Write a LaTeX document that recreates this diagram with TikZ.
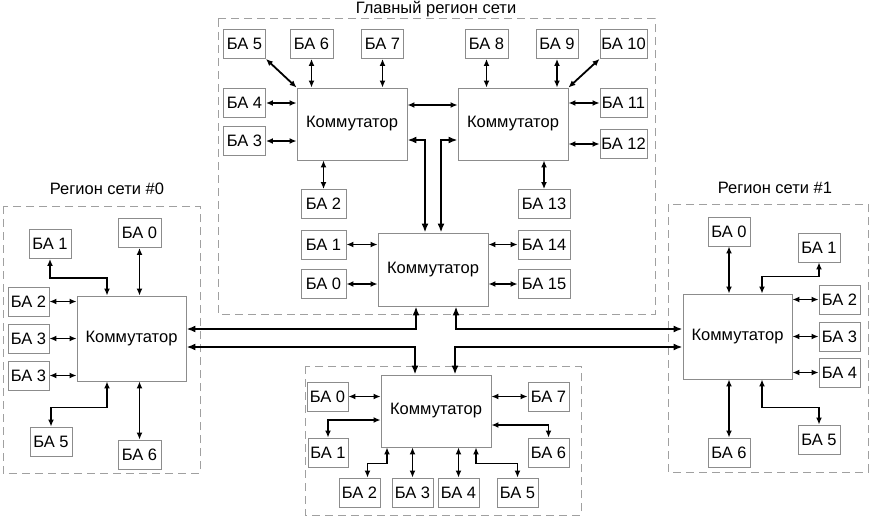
\documentclass[tikz,border=0pt]{standalone}
\usepackage{fontspec}
\setmainfont{Liberation Sans}
\usetikzlibrary{arrows.meta}
\definecolor{boxgray}{HTML}{8C8C8C}
\definecolor{dashgray}{HTML}{A0A0A0}
\tikzset{
  ba/.style={draw=boxgray, line width=0.9pt, rectangle, minimum width=42pt, minimum height=29pt, inner sep=0pt, font=\fontsize{16.5}{19}\selectfont},
  sw/.style={draw=boxgray, line width=0.9pt, rectangle, minimum width=110pt, minimum height=72pt, inner sep=0pt, font=\fontsize{16.5}{19}\selectfont},
  lnk/.style={line width=1.8pt, {Latex[length=7pt,width=6pt]}-{Latex[length=7pt,width=6pt]}},
  big/.style={line width=2.4pt, {Latex[length=9pt,width=7pt]}-{Latex[length=9pt,width=7pt]}},
  region/.style={draw=dashgray, line width=1pt, dash pattern=on 8pt off 5pt},
  ttl/.style={font=\fontsize{16.5}{19}\selectfont, inner sep=0pt}
}
\begin{document}
\begin{tikzpicture}[x=1pt,y=-1pt]
\useasboundingbox[fill=white] (0,0) rectangle (869,519);
% regions
\draw[region] (218,19) rectangle (655,314);
\draw[region] (3,206) rectangle (200,473);
\draw[region] (668,204) rectangle (868,472);
\draw[region] (305,366) rectangle (581,515);
\node[ttl] (tmain) at (436,9) {Главный регион сети};
\node[ttl] (tleft) at (107,189) {Регион сети \#0};
\node[ttl] (tright) at (775,188) {Регион сети \#1};

% main region
\node[sw] (mS1) at (352,124) {Коммутатор};
\node[sw] (mS2) at (513,124) {Коммутатор};
\node[sw, minimum height=73pt] (mS3) at (433,269.5) {Коммутатор};
\node[ba] (m5) at (244.5,44) {БА 5};
\node[ba, minimum width=43pt] (m6) at (311.5,44) {БА 6};
\node[ba] (m7) at (382.5,44) {БА 7};
\node[ba, minimum width=43pt] (m8) at (486.5,44) {БА 8};
\node[ba] (m9) at (557,44) {БА 9};
\node[ba, minimum width=47pt] (m10) at (623.5,44) {БА 10};
\node[ba] (m4) at (244.5,103) {БА 4};
\node[ba] (m3) at (244.5,141) {БА 3};
\node[ba, minimum width=47pt] (m11) at (623.5,103) {БА 11};
\node[ba, minimum width=47pt] (m12) at (623.5,144) {БА 12};
\node[ba, minimum width=45pt] (m2) at (323.5,204) {БА 2};
\node[ba, minimum width=45pt] (m1) at (323.5,244.5) {БА 1};
\node[ba, minimum width=45pt] (m0) at (323.5,284) {БА 0};
\node[ba, minimum width=52pt] (m13) at (544,204) {БА 13};
\node[ba, minimum width=52pt] (m14) at (544,244.5) {БА 14};
\node[ba, minimum width=52pt] (m15) at (544,284) {БА 15};

\draw[lnk] (m5.south east) -- (mS1.north west);
\draw[lnk] (m6.south) -- (m6.south |- mS1.north);
\draw[lnk] (m7.south) -- (m7.south |- mS1.north);
\draw[lnk] (m8.south) -- (m8.south |- mS2.north);
\draw[lnk] (m9.south) -- (m9.south |- mS2.north);
\draw[lnk] (m10.south west) -- (mS2.north east);
\draw[lnk] (m4.east) -- (mS1.west |- m4.east);
\draw[lnk] (m3.east) -- (mS1.west |- m3.east);
\draw[lnk] ([yshift=19pt]mS1.east) -- ([yshift=19pt]mS2.west);
\draw[lnk] (m11.west) -- (mS2.east |- m11.west);
\draw[lnk] (m12.west) -- (mS2.east |- m12.west);
\draw[lnk] (m2.north) -- (m2.north |- mS1.south);
\draw[lnk] (m13.north) -- (m13.north |- mS2.south);
\draw[lnk] (m1.east) -- (mS3.west |- m1.east);
\draw[lnk] (m0.east) -- (mS3.west |- m0.east);
\draw[lnk] (m14.west) -- (mS3.east |- m14.west);
\draw[lnk] (m15.west) -- (mS3.east |- m15.west);
\draw[big] ([yshift=-16pt]mS1.east) -| ([xshift=-8pt]mS3.north);
\draw[big] ([yshift=-16pt]mS2.west) -| ([xshift=8pt]mS3.north);

% left region
\node[sw, minimum width=109pt, minimum height=85pt] (lS) at (131.5,338.5) {Коммутатор};
\node[ba, minimum width=43pt] (l0) at (139.5,233) {БА 0};
\node[ba] (l1) at (50,244) {БА 1};
\node[ba, minimum width=41pt] (l2) at (28.5,301.5) {БА 2};
\node[ba, minimum width=41pt] (l3) at (28.5,338.5) {БА 3};
\node[ba, minimum width=41pt] (l3b) at (28.5,375.5) {БА 3};
\node[ba] (l5) at (51,441.5) {БА 5};
\node[ba, minimum width=43pt] (l6) at (139.5,454.5) {БА 6};
\draw[lnk] (l0.south) -- (l0.south |- lS.north);
\draw[lnk] (l1.south) -- ++(0,19) -| ([xshift=-24.5pt]lS.north);
\draw[lnk] (l2.east) -- (lS.west |- l2.east);
\draw[lnk] (l3.east) -- (lS.west |- l3.east);
\draw[lnk] (l3b.east) -- (lS.west |- l3b.east);
\draw[lnk] ([xshift=-24.5pt]lS.south) -- ++(0,26) -| (l5.north);
\draw[lnk] (l6.north) -- (l6.north |- lS.south);

% right region
\node[sw, minimum width=109pt, minimum height=85pt] (rS) at (737.5,336.5) {Коммутатор};
\node[ba] (r0) at (729,231.5) {БА 0};
\node[ba] (r1) at (819,247.5) {БА 1};
\node[ba, minimum width=41pt] (r2) at (839.5,299.5) {БА 2};
\node[ba, minimum width=41pt] (r3) at (839.5,336.5) {БА 3};
\node[ba, minimum width=41pt] (r4) at (839.5,372.5) {БА 4};
\node[ba] (r5) at (819,439.5) {БА 5};
\node[ba] (r6) at (729,452.5) {БА 6};
\draw[lnk] (r0.south) -- (r0.south |- rS.north);
\draw[lnk] (r1.south) -- ++(0,14) -| ([xshift=24.5pt]rS.north);
\draw[lnk] (r2.west) -- (rS.east |- r2.west);
\draw[lnk] (r3.west) -- (rS.east |- r3.west);
\draw[lnk] (r4.west) -- (rS.east |- r4.west);
\draw[lnk] ([xshift=24.5pt]rS.south) -- ++(0,28) -| (r5.north);
\draw[lnk] (r6.north) -- (r6.north |- rS.south);

% bottom region
\node[sw] (bS) at (436,411) {Коммутатор};
\node[ba, minimum width=41pt] (b0) at (327.5,396.5) {БА 0};
\node[ba, minimum width=40pt] (b1) at (328,452.5) {БА 1};
\node[ba, minimum width=41pt] (b2) at (359.5,492.5) {БА 2};
\node[ba, minimum width=41pt] (b3) at (412.5,492.5) {БА 3};
\node[ba, minimum width=41pt] (b4) at (458.5,492.5) {БА 4};
\node[ba, minimum width=41pt] (b5) at (517.5,492.5) {БА 5};
\node[ba, minimum width=41pt] (b6) at (548.5,452.5) {БА 6};
\node[ba, minimum width=41pt] (b7) at (548.5,396.5) {БА 7};
\draw[lnk] (b0.east) -- (bS.west |- b0.east);
\draw[lnk] ([yshift=-9pt]bS.west) -| (b1.north);
\draw[lnk] ([xshift=-49pt]bS.south) -- ++(0,16) -| ([xshift=8pt]b2.north);
\draw[lnk] (b3.north) -- (b3.north |- bS.south);
\draw[lnk] (b4.north) -- (b4.north |- bS.south);
\draw[lnk] ([xshift=40pt]bS.south) -- ++(0,16) -| (b5.north);
\draw[lnk] ([yshift=-14pt]bS.east) -| (b6.north);
\draw[lnk] (b7.west) -- (bS.east |- b7.west);

% inter-region links
\draw[big] ([yshift=9.5pt]lS.east) -| ([xshift=-17pt]mS3.south);
\draw[big] ([yshift=-8.5pt]lS.east) -| ([xshift=-21pt]bS.north);
\draw[big] ([yshift=7.5pt]rS.west) -| ([xshift=23pt]mS3.south);
\draw[big] ([yshift=-10.5pt]rS.west) -| ([xshift=19pt]bS.north);
\end{tikzpicture}
\end{document}
